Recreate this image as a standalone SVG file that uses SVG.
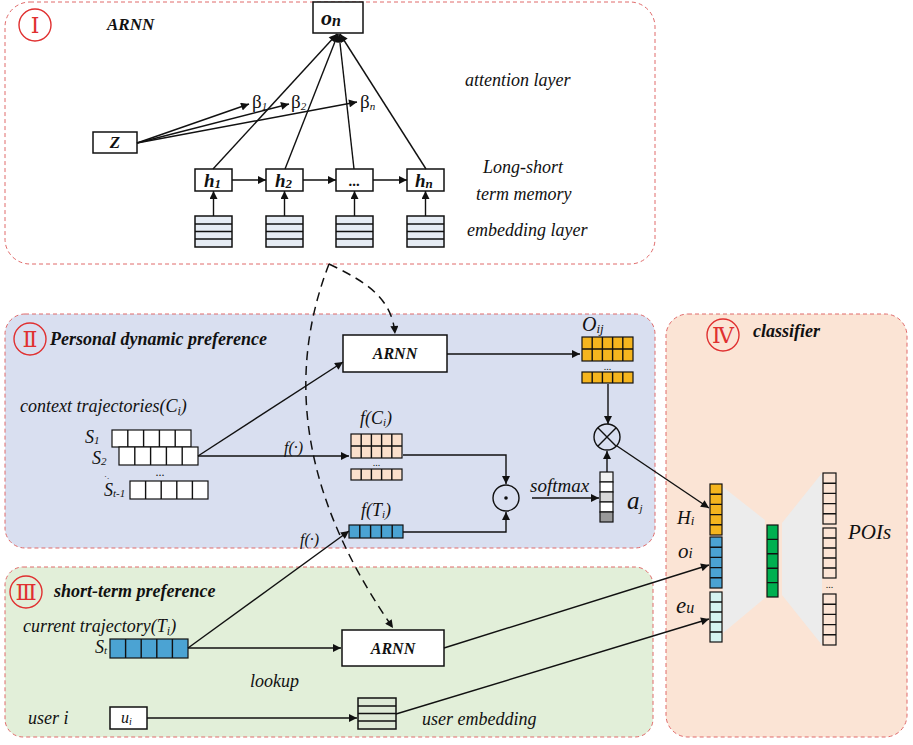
<svg xmlns="http://www.w3.org/2000/svg" width="913" height="745" viewBox="0 0 913 745">
<style>
text{font-family:"Liberation Serif","DejaVu Serif",serif;fill:#111}
.it{font-style:italic}
.bi{font-style:italic;font-weight:bold}
.num{font-family:"DejaVu Serif","Liberation Serif","Noto Sans CJK SC",serif;fill:#e03030;font-size:22px}
.panel{stroke:#e06a6a;stroke-width:1;stroke-dasharray:4 3}
.ring{fill:none;stroke:#e03030;stroke-width:1.4}
.box{fill:#fff;stroke:#111;stroke-width:1.5}
.cell{stroke:#111;stroke-width:1.2}
.ln{fill:none;stroke:#111;stroke-width:1.4}
.arr{fill:none;stroke:#111;stroke-width:1.4;marker-end:url(#ah)}
.dash{fill:none;stroke:#111;stroke-width:1.5;stroke-dasharray:9 6;marker-end:url(#ah)}
.stk{fill:#e6ecf4;stroke:#111;stroke-width:1.5}
</style>
<defs>
<marker id="ah" viewBox="0 0 10 10" refX="10" refY="5" markerWidth="10" markerHeight="8" markerUnits="userSpaceOnUse" orient="auto">
<path d="M0,0 L10,5 L0,10 Z" fill="#111"/>
</marker>
</defs>

<!-- Panels -->
<g id="panel-I">
<rect class="panel" x="5" y="2" width="650" height="262" rx="25" fill="#fff"/>
<circle class="ring" cx="35" cy="25" r="16"/>
<text class="num" x="35" y="33" text-anchor="middle">Ⅰ</text>
<text class="bi" x="107" y="30" font-size="17">ARNN</text>
<text class="it" x="465" y="86" font-size="18">attention layer</text>
<text class="it" x="483" y="173" font-size="18">Long-short</text>
<text class="it" x="476" y="200" font-size="18">term memory</text>
<text class="it" x="467" y="236" font-size="18">embedding layer</text>
</g>
<g id="panel-II">
<rect class="panel" x="5" y="314" width="650" height="234" rx="20" fill="#d9dff0"/>
<circle class="ring" cx="30" cy="339" r="16"/>
<text class="num" x="30" y="347" text-anchor="middle">Ⅱ</text>
<text class="bi" x="50" y="345" font-size="18">Personal dynamic preference</text>
<text class="it" x="20" y="412" font-size="18">context trajectories(C<tspan font-size="12" dy="3">i</tspan><tspan dy="-3">)</tspan></text>
</g>
<g id="panel-III">
<rect class="panel" x="5" y="567" width="648" height="170" rx="18" fill="#e2efd9"/>
<circle class="ring" cx="26" cy="592" r="16"/>
<text class="num" x="26" y="600" text-anchor="middle">Ⅲ</text>
<text class="bi" x="54" y="597" font-size="18">short-term preference</text>
<text class="it" x="23" y="632" font-size="18">current trajectory(T<tspan font-size="12" dy="3">i</tspan><tspan dy="-3">)</tspan></text>
<text class="it" x="250" y="687" font-size="18">lookup</text>
<text class="it" x="28" y="724" font-size="18">user i</text>
<text class="it" x="422" y="725" font-size="18">user embedding</text>
</g>
<g id="panel-IV">
<rect class="panel" x="666" y="314" width="241" height="423" rx="22" fill="#fbe4d5"/>
<circle class="ring" cx="723" cy="335" r="16"/>
<text class="num" x="723" y="343" text-anchor="middle">Ⅳ</text>
<text class="bi" x="753" y="337" font-size="18">classifier</text>
</g>

<!-- Panel I nodes -->
<g id="node-on">
<rect class="box" x="313" y="2" width="50" height="31"/>
<text class="bi" x="321" y="25" font-size="22">o<tspan font-size="16" dy="1">n</tspan></text>
</g>
<g id="node-z">
<rect class="box" x="93" y="132" width="44" height="21"/>
<text class="bi" x="115" y="148" font-size="17" text-anchor="middle">Z</text>
</g>
<g id="node-beta">
<text x="252" y="108" font-size="19">β<tspan class="it" font-size="11" dy="2">1</tspan></text>
<text x="291" y="108" font-size="19">β<tspan class="it" font-size="11" dy="2">2</tspan></text>
<text x="360" y="108" font-size="19">β<tspan class="it" font-size="11" dy="2">n</tspan></text>
</g>
<g id="node-h1">
<rect class="box" x="195" y="169" width="37" height="22"/>
<text class="bi" x="204" y="187" font-size="19">h<tspan font-size="13" dy="1">1</tspan></text>
</g>
<g id="node-h2">
<rect class="box" x="266" y="169" width="37" height="22"/>
<text class="bi" x="275" y="187" font-size="19">h<tspan font-size="13" dy="1">2</tspan></text>
</g>
<g id="node-hdots">
<rect class="box" x="336" y="169" width="37" height="22"/>
<text class="bi" x="354.5" y="186" font-size="15" text-anchor="middle">...</text>
</g>
<g id="node-hn">
<rect class="box" x="407" y="169" width="37" height="22"/>
<text class="bi" x="415" y="187" font-size="19">h<tspan font-size="13" dy="1">n</tspan></text>
</g>
<g id="node-emb">
<g><rect class="stk" x="195" y="216" width="37" height="31"/><path class="ln" d="M195,224 H232 M195,231.5 H232 M195,239 H232"/></g>
<g><rect class="stk" x="266" y="216" width="37" height="31"/><path class="ln" d="M266,224 H303 M266,231.5 H303 M266,239 H303"/></g>
<g><rect class="stk" x="336" y="216" width="37" height="31"/><path class="ln" d="M336,224 H373 M336,231.5 H373 M336,239 H373"/></g>
<g><rect class="stk" x="407" y="216" width="37" height="31"/><path class="ln" d="M407,224 H444 M407,231.5 H444 M407,239 H444"/></g>
</g>

<!-- Panel II nodes -->
<g id="node-contexts">
<rect class="cell" x="112" y="430" width="79" height="17" fill="#fff"/>
<path class="ln" d="M127.8,430 V447 M143.6,430 V447 M159.4,430 V447 M175.2,430 V447"/>
<rect class="cell" x="119" y="447" width="79" height="18" fill="#fff"/>
<path class="ln" d="M134.8,447 V465 M150.6,447 V465 M166.4,447 V465 M182.2,447 V465"/>
<rect class="cell" x="130" y="481" width="78" height="18" fill="#fff"/>
<path class="ln" d="M145.6,481 V499 M161.2,481 V499 M176.8,481 V499 M192.4,481 V499"/>
<text class="it" x="85" y="443" font-size="18">S<tspan font-size="11" dy="1">1</tspan></text>
<text class="it" x="92" y="464" font-size="18">S<tspan font-size="11" dy="1">2</tspan></text>
<text x="104" y="479" font-size="9">·.</text>
<text x="160" y="476" font-size="12" text-anchor="middle">...</text>
<text class="it" x="104" y="496" font-size="18">S<tspan font-size="11" dy="1">t-1</tspan></text>
</g>
<g id="node-arnn2">
<rect class="box" x="343" y="335" width="104" height="37"/>
<text class="bi" x="395" y="359" font-size="16" text-anchor="middle">ARNN</text>
</g>
<g id="node-oij">
<text class="it" x="582" y="331" font-size="20">O<tspan font-size="13" dy="2">ij</tspan></text>
<rect class="cell" x="582" y="337" width="51" height="24" fill="#f5b51e"/>
<path class="ln" d="M582,349 H633 M592.2,337 V361 M602.4,337 V361 M612.6,337 V361 M622.8,337 V361"/>
<text x="607.5" y="370" font-size="10" text-anchor="middle">...</text>
<rect class="cell" x="582" y="372" width="51" height="11" fill="#f5b51e"/>
<path class="ln" d="M592.2,372 V383 M602.4,372 V383 M612.6,372 V383 M622.8,372 V383"/>
</g>
<g id="node-fci">
<text class="it" x="376" y="424" font-size="18" text-anchor="middle">f(C<tspan font-size="11" dy="2">i</tspan><tspan dy="-2">)</tspan></text>
<rect class="cell" x="351" y="434" width="51" height="24" fill="#fbe0cc"/>
<path class="ln" d="M351,446 H402 M361.2,434 V458 M371.4,434 V458 M381.6,434 V458 M391.8,434 V458"/>
<text x="376.5" y="466" font-size="10" text-anchor="middle">...</text>
<rect class="cell" x="351" y="469" width="51" height="11" fill="#fbe0cc"/>
<path class="ln" d="M361.2,469 V480 M371.4,469 V480 M381.6,469 V480 M391.8,469 V480"/>
</g>
<g id="node-fti">
<text class="it" x="376" y="516" font-size="18" text-anchor="middle">f(T<tspan font-size="11" dy="2">i</tspan><tspan dy="-2">)</tspan></text>
<rect class="cell" x="349" y="525" width="54" height="13" fill="#4ba3d3"/>
<path class="ln" d="M359.8,525 V538 M370.6,525 V538 M381.4,525 V538 M392.2,525 V538"/>
</g>
<g id="node-otimes">
<circle cx="607" cy="437" r="13" fill="none" stroke="#111" stroke-width="1.4"/>
<path class="ln" d="M597.8,427.8 L616.2,446.2 M616.2,427.8 L597.8,446.2"/>
</g>
<g id="node-odot">
<circle cx="506" cy="498" r="13" fill="none" stroke="#111" stroke-width="1.4"/>
<circle cx="506" cy="498" r="1.8" fill="#111"/>
</g>
<g id="node-aj">
<rect class="cell" x="600" y="472" width="13" height="10" fill="#f2f2f2"/>
<rect class="cell" x="600" y="482" width="13" height="10" fill="#fff"/>
<rect class="cell" x="600" y="492" width="13" height="10" fill="#d9d9d9"/>
<rect class="cell" x="600" y="502" width="13" height="10" fill="#fff"/>
<rect class="cell" x="600" y="512" width="13" height="10" fill="#999"/>
<text class="it" x="627" y="509" font-size="25">a<tspan font-size="11" dy="3">j</tspan></text>
</g>
<text class="it" x="530" y="492" font-size="19">softmax</text>
<text class="it" x="284" y="453" font-size="16">f(·)</text>
<text class="it" x="300" y="545" font-size="16">f(·)</text>

<!-- Panel III nodes -->
<g id="node-st">
<text class="it" x="95" y="653" font-size="18">S<tspan font-size="11" dy="1">t</tspan></text>
<rect class="cell" x="110" y="639" width="78" height="19" fill="#4ba3d3"/>
<path class="ln" d="M125.6,639 V658 M141.2,639 V658 M156.8,639 V658 M172.4,639 V658"/>
</g>
<g id="node-arnn3">
<rect class="box" x="342" y="630" width="102" height="36" fill="none"/>
<text class="bi" x="393" y="654" font-size="16" text-anchor="middle">ARNN</text>
</g>
<g id="node-ui">
<rect class="box" x="110" y="707" width="37" height="22" fill="none"/>
<text class="it" x="121" y="723" font-size="16">u<tspan font-size="10" dy="2">i</tspan></text>
</g>
<g id="node-user-emb">
<rect x="358" y="698" width="38" height="31" fill="#dde9d6" stroke="#111" stroke-width="1.5"/>
<path class="ln" d="M358,706 H396 M358,713.5 H396 M358,721 H396"/>
</g>

<!-- Panel IV nodes -->
<g id="node-trapezoids">
<polygon points="723,487 765,520 765,598 723,633" fill="#ececec"/>
<polygon points="782,523 822,473 822,645 782,595" fill="#ececec"/>
</g>
<g id="node-hi">
<text class="it" x="677" y="524" font-size="19">H<tspan font-size="13" dy="1">i</tspan></text>
<rect class="cell" x="710" y="484" width="12" height="51" fill="#f5b51e"/>
<path class="ln" d="M710,494.2 H722 M710,504.4 H722 M710,514.6 H722 M710,524.8 H722"/>
</g>
<g id="node-oi">
<text class="it" x="678" y="558" font-size="21">o<tspan font-size="15">i</tspan></text>
<rect class="cell" x="710" y="537" width="12" height="51" fill="#4ba3d3"/>
<path class="ln" d="M710,547.2 H722 M710,557.4 H722 M710,567.6 H722 M710,577.8 H722"/>
</g>
<g id="node-eu">
<text class="it" x="676" y="613" font-size="23">e<tspan font-size="16">u</tspan></text>
<rect class="cell" x="710" y="592" width="12" height="50" fill="#d5f3f1"/>
<path class="ln" d="M710,602 H722 M710,612 H722 M710,622 H722 M710,632 H722"/>
</g>
<g id="node-hidden">
<rect class="cell" x="767" y="525" width="11" height="72" fill="#00b050"/>
<path class="ln" d="M767,539.4 H778 M767,553.8 H778 M767,568.2 H778 M767,582.6 H778"/>
</g>
<g id="node-pois">
<rect class="cell" x="823" y="473" width="13" height="51" fill="#fbe4d5" stroke-width="1.6"/>
<path class="ln" d="M823,483.2 H836 M823,493.4 H836 M823,503.6 H836 M823,513.8 H836" stroke-width="1.8"/>
<rect class="cell" x="823" y="528" width="13" height="50" fill="#fbe4d5" stroke-width="1.6"/>
<path class="ln" d="M823,538 H836 M823,548 H836 M823,558 H836 M823,568 H836" stroke-width="1.8"/>
<text x="829.5" y="588" font-size="10" text-anchor="middle">...</text>
<rect class="cell" x="823" y="594" width="13" height="51" fill="#fbe4d5" stroke-width="1.6"/>
<path class="ln" d="M823,604.2 H836 M823,614.4 H836 M823,624.6 H836 M823,634.8 H836" stroke-width="1.8"/>
<text class="it" x="848" y="539" font-size="21">POIs</text>
</g>

<!-- Connectors -->
<g id="connectors">
<line class="arr" x1="213" y1="169" x2="337" y2="34"/>
<line class="arr" x1="285" y1="169" x2="338" y2="34"/>
<line class="arr" x1="354" y1="169" x2="339" y2="34"/>
<line class="arr" x1="426" y1="169" x2="340" y2="34"/>
<line class="arr" x1="137" y1="143" x2="249" y2="104"/>
<line class="arr" x1="137" y1="143" x2="289" y2="104"/>
<line class="arr" x1="137" y1="143" x2="357" y2="102"/>
<line class="arr" x1="232" y1="180" x2="266" y2="180"/>
<line class="arr" x1="303" y1="180" x2="336" y2="180"/>
<line class="arr" x1="373" y1="180" x2="407" y2="180"/>
<line class="arr" x1="213.5" y1="216" x2="213.5" y2="191"/>
<line class="arr" x1="284.5" y1="216" x2="284.5" y2="191"/>
<line class="arr" x1="354.5" y1="216" x2="354.5" y2="191"/>
<line class="arr" x1="425.5" y1="216" x2="425.5" y2="191"/>

<line class="arr" x1="198" y1="456" x2="343" y2="362"/>
<line class="arr" x1="198" y1="456" x2="349" y2="456"/>
<line class="arr" x1="447" y1="354" x2="580" y2="354"/>
<line class="arr" x1="608" y1="384" x2="608" y2="424"/>
<path class="arr" d="M403,455 H506 V484"/>
<path class="arr" d="M403,532 H506 V512"/>
<line class="arr" x1="532" y1="498" x2="599" y2="498"/>
<line class="arr" x1="607" y1="472" x2="607" y2="451"/>
<line class="arr" x1="617" y1="446" x2="709" y2="508"/>

<line class="arr" x1="188" y1="648" x2="349" y2="531"/>
<line class="arr" x1="188" y1="648" x2="341" y2="648"/>
<line class="arr" x1="147" y1="718" x2="357" y2="718"/>
<line class="arr" x1="444" y1="648" x2="709" y2="565"/>
<line class="arr" x1="396" y1="714" x2="709" y2="619"/>

<path class="dash" d="M329,264 C362,280 392,296 395,334"/>
<path class="dash" d="M329,264 C292,360 290,480 393,628"/>
</g>
</svg>
